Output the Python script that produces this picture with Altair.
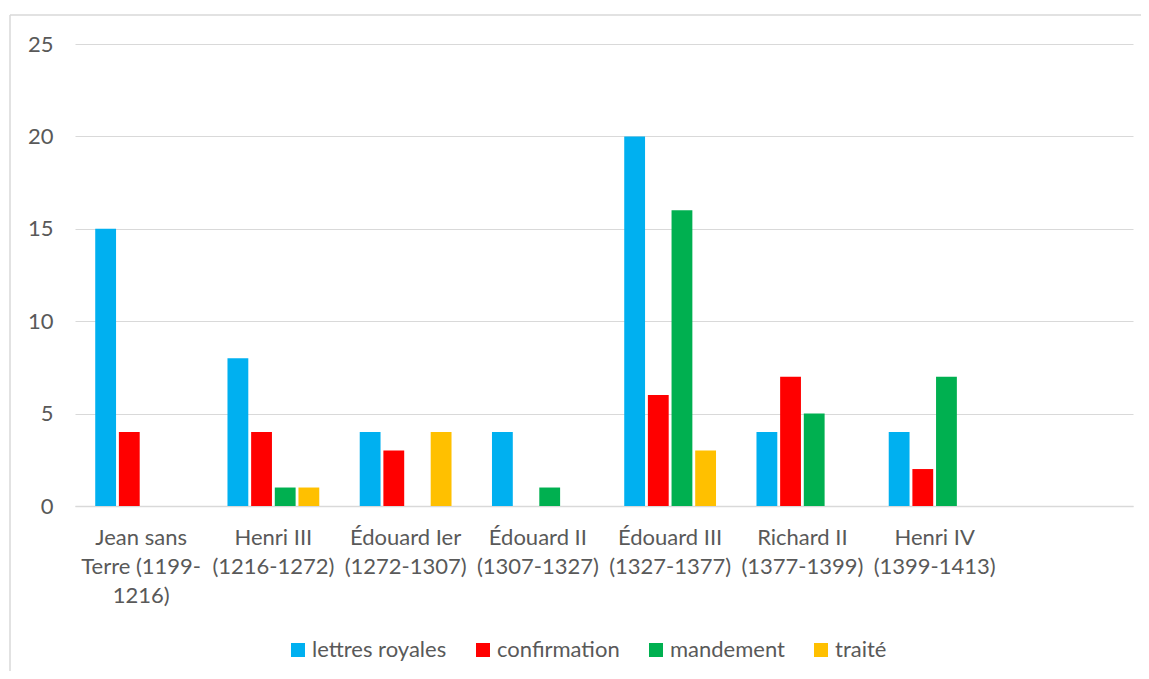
import altair as alt
import pandas as pd

# Category labels ("|" marks a line break in the axis label); the last slot is empty
categories = [
    "Jean sans|Terre (1199-|1216)",
    "Henri III|(1216-1272)",
    "Édouard Ier|(1272-1307)",
    "Édouard II|(1307-1327)",
    "Édouard III|(1327-1377)",
    "Richard II|(1377-1399)",
    "Henri IV|(1399-1413)",
    " ",
]
series = ["lettres royales", "confirmation", "mandement", "traité"]
colors = ["#00B0F0", "#FF0000", "#00B050", "#FFC000"]

lettres_royales = [15, 8, 4, 4, 20, 4, 4]
confirmation = [4, 4, 3, 0, 6, 7, 2]
mandement = [0, 1, 0, 1, 16, 5, 7]
traite = [0, 1, 4, 0, 3, 0, 0]

rows = []
for name, vals in zip(series, [lettres_royales, confirmation, mandement, traite]):
    for cat, v in zip(categories[:7], vals):
        rows.append({"categorie": cat, "serie": name, "valeur": v})
df = pd.DataFrame(rows)

FONT = "Lato"
FS = 22
TXT = "#595959"
GRID = "#D9D9D9"

bars = alt.Chart(df).mark_bar().encode(
    x=alt.X(
        "categorie:N",
        sort=categories,
        scale=alt.Scale(domain=categories, paddingInner=0, paddingOuter=0),
        axis=alt.Axis(
            title=None,
            labelAngle=0,
            labelExpr="split(datum.value, '|')",
            labelLineHeight=29,
            labelPadding=21,
            labelBaseline="top",
            labelFontSize=FS,
            labelColor=TXT,
            labelFont=FONT,
            ticks=False,
            domainColor=GRID,
            domainWidth=1.5,
            grid=False,
        ),
    ),
    xOffset=alt.XOffset(
        "serie:N",
        sort=series,
        scale=alt.Scale(domain=series, paddingInner=0.12, paddingOuter=0.855),
    ),
    y=alt.Y(
        "valeur:Q",
        scale=alt.Scale(domain=[0, 25], nice=False),
        axis=alt.Axis(
            title=None,
            values=[0, 5, 10, 15, 20, 25],
            domain=False,
            ticks=False,
            labelPadding=22,
            labelFontSize=FS,
            labelColor=TXT,
            labelFont=FONT,
            gridColor=GRID,
            gridWidth=1.2,
        ),
    ),
    color=alt.Color(
        "serie:N",
        sort=series,
        scale=alt.Scale(domain=series, range=colors),
        legend=alt.Legend(
            title=None,
            orient="none",
            direction="horizontal",
            legendX=212,
            legendY=595,
            symbolType="square",
            symbolSize=196,
            symbolStrokeWidth=0,
            labelFontSize=FS,
            labelColor=TXT,
            labelFont=FONT,
            labelOffset=3,
            columnPadding=25,
        ),
    ),
)

one = pd.DataFrame({"a": [0]})
border_top = alt.Chart(one).mark_rule(stroke=GRID, strokeWidth=1.5).encode(
    x=alt.value(-65), x2=alt.value(1200), y=alt.value(-29)
)
border_left = alt.Chart(one).mark_rule(stroke=GRID, strokeWidth=1.5).encode(
    x=alt.value(-65), y=alt.value(-29), y2=alt.value(800)
)

chart = (
    alt.layer(border_top, border_left, bars)
    .properties(
        width=1058,
        height=462,
        padding={"left": 67, "top": 36, "right": 8, "bottom": 165},
        autosize=alt.AutoSizeParams(type="none"),
    )
    .configure(background="white")
    .configure_view(stroke="transparent", strokeWidth=0)
)

chart.save("out.html", embed_options={"renderer": "svg", "actions": False})
